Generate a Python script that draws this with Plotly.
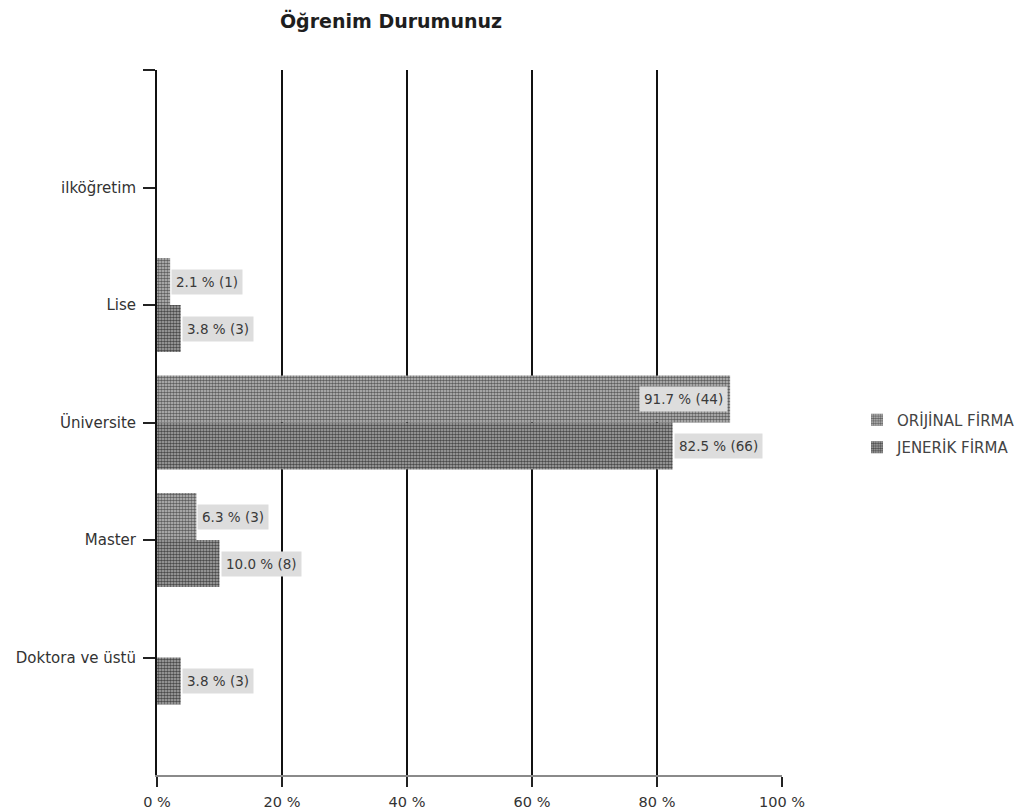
import plotly.graph_objects as go

# Education level survey: share of respondents per company type
categories = ["ilköğretim", "Lise", "Üniversite", "Master", "Doktora ve üstü"]
series_names = ["ORİJİNAL FİRMA", "JENERİK FİRMA"]
orijinal_pct = [None, 2.1, 91.7, 6.3, None]
orijinal_n = [None, 1, 44, 3, None]
jenerik_pct = [None, 3.8, 82.5, 10.0, 3.8]
jenerik_n = [None, 3, 66, 8, 3]
x_ticks = [0, 20, 40, 60, 80, 100]
x_tick_labels = ["0 %", "20 %", "40 %", "60 %", "80 %", "100 %"]

FONT = "DejaVu Sans, Verdana, sans-serif"
ypos = list(range(len(categories)))

fig = go.Figure()
styles = [
    dict(bg="#c6c6c6", fg="#5e5e5e"),
    dict(bg="#b2b2b2", fg="#4a4a4a"),
]
for k, (name, vals, st) in enumerate(zip(series_names, [orijinal_pct, jenerik_pct], styles)):
    fig.add_trace(go.Bar(
        name=name, orientation="h", y=ypos, x=vals, legendgroup=f"g{k}",
        marker=dict(color=st["bg"], line=dict(width=0),
                    pattern=dict(shape=".", fgcolor=st["fg"], bgcolor=st["bg"],
                                 size=3, solidity=0.6, fillmode="replace")),
        hoverinfo="skip",
    ))

# value labels with a light box next to each bar end
for offset, vals, counts in [(-0.2, orijinal_pct, orijinal_n), (0.2, jenerik_pct, jenerik_n)]:
    for i, (v, n) in enumerate(zip(vals, counts)):
        if v is None:
            continue
        inside = v > 90
        fig.add_annotation(
            x=v, y=i + offset, xref="x", yref="y",
            text=f"{v:.1f} % ({n})", showarrow=False,
            xanchor="right" if inside else "left", yanchor="middle",
            xshift=-2 if inside else 1,
            bgcolor="#dddddd", borderpad=4,
            font=dict(family=FONT, size=13.5, color="#3a3a3a"),
        )

fig.update_layout(
    width=1036, height=810,
    margin=dict(l=157, r=254, t=70, b=35, autoexpand=False),
    paper_bgcolor="white", plot_bgcolor="white",
    barmode="group", bargap=0.2, bargroupgap=0,
    title=dict(text="<b>Öğrenim Durumunuz</b>", x=0.3744, xref="paper", xanchor="center",
               y=0.974, yref="container", yanchor="middle",
               font=dict(family=FONT, size=19, color="#1e1e1e")),
    legend=dict(x=1.12, y=0.527, xanchor="left", yanchor="top",
                font=dict(family=FONT, size=15, color="#444444"),
                traceorder="grouped", itemwidth=30, tracegroupgap=5,
                bgcolor="rgba(0,0,0,0)"),
    xaxis=dict(range=[0, 100], tickvals=x_ticks, ticktext=x_tick_labels,
               showgrid=True, gridcolor="#111111", gridwidth=1.5,
               zeroline=False, showline=True, linecolor="#8a8a8a", linewidth=2,
               ticks="outside", ticklen=10, tickcolor="#222222", tickwidth=1.5,
               ticklabelstandoff=3, automargin=False,
               tickfont=dict(family=FONT, size=14.5, color="#333333"),
               fixedrange=True),
    yaxis=dict(range=[5, -1], tickvals=[-1] + ypos, ticktext=[""] + categories,
               showgrid=False, zeroline=False, showline=True,
               linecolor="#111111", linewidth=2,
               ticks="outside", ticklen=12, tickcolor="#222222", tickwidth=1.5,
               ticklabelstandoff=4, automargin=False,
               tickfont=dict(family=FONT, size=15, color="#333333"),
               fixedrange=True),
)

fig.write_html("out.html")
